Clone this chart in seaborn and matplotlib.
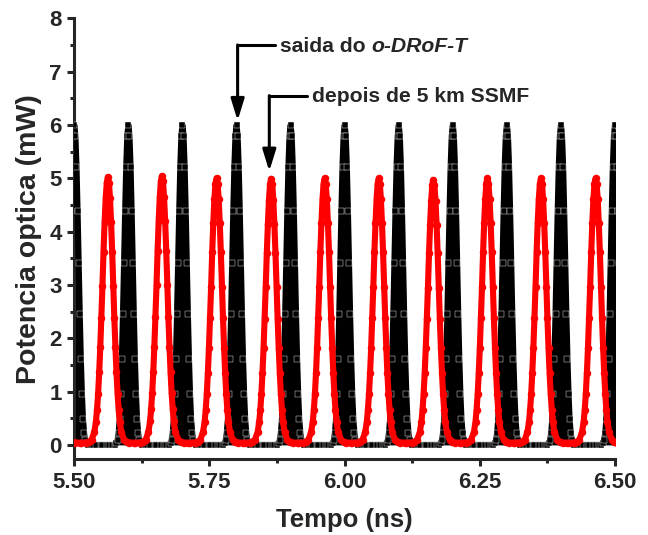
import seaborn as sns
import pandas as pd
import numpy as np
import matplotlib.pyplot as plt

# peaks (ns, mW)
black_peak_t = [5.50, 5.60, 5.70, 5.80, 5.90, 6.00, 6.10, 6.20, 6.30, 6.40, 6.50]
black_peak_p = [6.0, 6.0, 6.0, 6.0, 6.0, 6.0, 6.0, 6.0, 6.0, 6.0, 6.0]
red_peak_t = [5.462, 5.562, 5.662, 5.763, 5.864, 5.963, 6.063, 6.164, 6.264, 6.363, 6.464]
red_peak_p = [5.00, 5.02, 5.04, 5.00, 4.99, 5.00, 5.00, 4.97, 5.00, 5.00, 5.00]
red_floor = 0.04

# pulse profile (offset from peak in ns -> fraction of peak), read from one pulse
pulse_dt = [0.0, 0.002, 0.004, 0.006, 0.008, 0.010, 0.012, 0.014, 0.016,
            0.018, 0.020, 0.022, 0.025, 0.030, 0.035, 0.040, 0.049]
black_shape = [1.0, 0.965, 0.87, 0.73, 0.57, 0.41, 0.27, 0.16, 0.08,
               0.038, 0.016, 0.006, 0.001, 0.0, 0.0, 0.0, 0.0]
red_shape = [1.0, 0.98, 0.92, 0.83, 0.72, 0.59, 0.47, 0.36, 0.265,
             0.185, 0.125, 0.08, 0.04, 0.012, 0.004, 0.001, 0.0]


def build(peaks_t, peaks_p, shape, floor=0.0):
    dt = np.array(pulse_dt)
    sh = np.array(shape)
    off = np.concatenate([-dt[::-1], dt[1:]])
    fr = np.concatenate([sh[::-1], sh[1:]])
    rows = []
    for t, p in zip(peaks_t, peaks_p):
        for o, f in zip(off, fr):
            rows.append((t + o, floor + (p - floor) * f))
    return pd.DataFrame(rows, columns=['t', 'p'])


df_black = build(black_peak_t, black_peak_p, black_shape)
df_red = build(red_peak_t, red_peak_p, red_shape, red_floor)

sns.set_style('ticks')
plt.rcParams['font.family'] = ['Liberation Sans', 'DejaVu Sans']
plt.rcParams['font.weight'] = 'bold'

fig = plt.figure(figsize=(6.48, 5.35), dpi=100)
ax = fig.add_axes([0.1147, 0.1415, 0.8344, 0.8243])

ax.fill_between(df_black.t, 0, df_black.p, color='black', lw=0, zorder=2)
sns.lineplot(data=df_black, x='t', y='p', sort=False, estimator=None, ax=ax,
             color='black', lw=4.4, marker='s', markersize=4.3, mec='white', mew=0.3,
             solid_joinstyle='round', solid_capstyle='round', zorder=3)
sns.lineplot(data=df_red, x='t', y='p', sort=False, estimator=None, ax=ax,
             color='#ff0000', lw=4.4, marker='o', markersize=5.4, mec='#ff0000', mew=0,
             solid_joinstyle='round', solid_capstyle='round', zorder=4)

ax.set_xlim(5.5, 6.5)
ax.set_ylim(-0.27, 8)
ax.set_xticks([5.50, 5.75, 6.00, 6.25, 6.50])
ax.set_xticklabels(['5.50', '5.75', '6.00', '6.25', '6.50'])
ax.set_xticks(np.arange(5.625, 6.5, 0.25), minor=True)
ax.set_yticks(range(0, 9))
ax.set_yticks(np.arange(0.5, 8, 1.0), minor=True)
ax.tick_params(which='major', direction='out', length=5, width=2.2,
               labelsize=16, pad=4)
ax.tick_params(which='minor', direction='out', length=3, width=2.2)
for lab in ax.get_xticklabels() + ax.get_yticklabels():
    lab.set_fontweight('bold')
sns.despine(ax=ax)
for s in ['left', 'bottom']:
    ax.spines[s].set_linewidth(2.2)

ax.set_xlabel('Tempo (ns)', fontsize=18.5, fontweight='bold', labelpad=11)
ax.set_ylabel('Potencia optica (mW)', fontsize=20.5, fontweight='bold', labelpad=5)

# annotations
arr = dict(arrowstyle='-|>,head_length=0.65,head_width=0.2', color='black',
           lw=2.2, shrinkA=0, shrinkB=0, mutation_scale=20)
ax.plot([5.802, 5.871], [7.50, 7.50], color='black', lw=2.2, clip_on=False)
ax.annotate('', xy=(5.802, 6.08), xytext=(5.802, 7.50), arrowprops=arr)
t1 = ax.text(5.880, 7.48, 'saida do ', fontsize=15.2, fontweight='bold',
             va='center', ha='left')
ax.annotate('o-DRoF-T', xy=(1, 0), xycoords=t1, va='bottom', ha='left',
            fontsize=15.2, fontweight='bold', fontstyle='italic')

ax.plot([5.8606, 5.930], [6.55, 6.55], color='black', lw=2.2, clip_on=False)
ax.annotate('', xy=(5.8606, 5.13), xytext=(5.8606, 6.55), arrowprops=arr)
ax.text(5.940, 6.53, 'depois de 5 km SSMF', fontsize=15.2, fontweight='bold',
        va='center', ha='left')

plt.savefig('out.png', dpi=100)
